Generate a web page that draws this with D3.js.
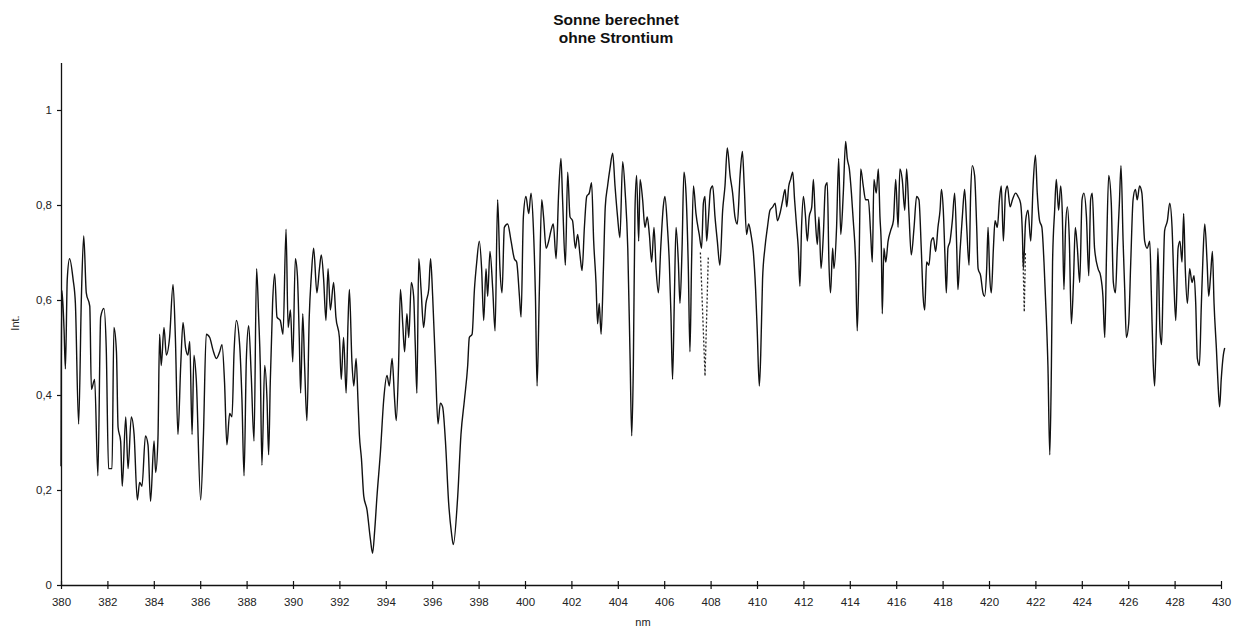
<!DOCTYPE html>
<html><head><meta charset="utf-8">
<script src="https://cdn.jsdelivr.net/npm/d3@7"></script>
<style>body{margin:0;background:#fff}svg{display:block}</style>
</head><body><svg id="chart" width="1242" height="630"></svg>
<script>
// ---------- data ----------
const titleLines = ["Sonne berechnet", "ohne Strontium"];
const xLabel = "nm";
const yLabel = "Int.";
const xTicks = [380,382,384,386,388,390,392,394,396,398,400,402,404,406,408,410,412,414,416,418,420,422,424,426,428,430];
const yTicks = [0, 0.2, 0.4, 0.6, 0.8, 1];
const yTickLabels = ["0", "0,2", "0,4", "0,6", "0,8", "1"];

const wavelength = [
380.00,380.01,380.04,380.13,380.19,380.27,380.37,380.52,380.62,380.76,380.88,380.98,381.09,381.24,381.31,381.45,381.59,381.71,381.85,381.95,
382.05,382.20,382.28,382.39,382.46,382.57,382.64,382.79,382.89,383.03,383.15,383.29,383.39,383.49,383.64,383.75,383.86,384.01,384.08,384.18,
384.25,384.32,384.44,384.54,384.68,384.83,384.93,385.04,385.16,385.26,385.37,385.47,385.55,385.65,385.73,385.83,386.02,386.14,386.26,386.41,
386.55,386.70,386.84,386.94,387.05,387.15,387.27,387.37,387.46,387.56,387.70,387.80,387.89,387.99,388.09,388.20,388.32,388.43,388.52,388.59,
388.66,388.78,388.88,388.95,389.02,389.12,389.21,389.31,389.45,389.57,389.70,389.79,389.89,389.99,390.10,390.19,390.27,390.33,390.42,390.50,
390.60,390.70,390.79,390.89,391.03,391.14,391.22,391.32,391.42,391.51,391.61,391.75,391.85,392.00,392.08,392.18,392.29,392.37,392.43,392.54,
392.62,392.72,392.80,392.86,392.95,393.05,393.19,393.33,393.43,393.52,393.62,393.77,393.91,394.05,394.15,394.27,394.38,394.45,394.55,394.63,
394.73,394.81,394.91,394.99,395.10,395.20,395.27,395.34,395.42,395.52,395.63,395.73,395.85,395.93,396.02,396.14,396.25,396.35,396.45,396.57,
396.71,396.83,396.91,397.10,397.24,397.39,397.53,397.60,397.72,397.82,397.92,398.03,398.13,398.22,398.32,398.39,398.49,398.61,398.71,398.82,
398.92,399.01,399.11,399.25,399.40,399.54,399.64,399.76,399.83,399.93,400.04,400.16,400.26,400.36,400.45,400.52,400.62,400.72,400.80,400.91,
401.02,401.12,401.22,401.34,401.45,401.55,401.62,401.74,401.84,401.94,402.05,402.17,402.27,402.37,402.46,402.56,402.66,402.77,402.87,402.96,
403.06,403.13,403.20,403.28,403.38,403.46,403.56,403.66,403.78,403.88,403.99,404.09,404.21,404.32,404.43,404.53,404.60,404.67,404.74,404.81,
404.90,404.96,405.07,405.17,405.27,405.36,405.46,405.56,405.65,405.75,405.85,405.96,406.03,406.14,406.22,406.29,406.36,406.44,406.51,406.61,
406.68,406.77,406.85,406.94,407.04,407.11,407.18,407.26,407.37,407.51,407.61,407.69,407.76,407.83,407.90,408.00,408.09,408.19,408.29,408.40,
408.52,408.62,408.72,408.84,408.95,409.05,409.15,409.27,409.37,409.45,409.55,409.64,409.74,409.84,409.94,410.01,410.10,410.16,410.24,410.34,
410.45,410.56,410.68,410.78,410.88,410.99,411.11,411.21,411.28,411.37,411.45,411.54,411.62,411.71,411.78,411.85,411.92,412.00,412.08,412.17,
412.25,412.36,412.43,412.51,412.60,412.67,412.76,412.86,412.95,413.03,413.10,413.17,413.26,413.32,413.43,413.52,413.61,413.72,413.82,413.89,
413.98,414.07,414.15,414.25,414.32,414.40,414.47,414.58,414.68,414.80,414.90,414.97,415.04,415.14,415.23,415.30,415.36,415.40,415.47,415.55,
415.65,415.76,415.88,415.98,416.08,416.16,416.26,416.37,416.45,416.55,416.65,416.77,416.88,416.98,417.08,417.16,417.23,417.31,417.41,417.51,
417.60,417.70,417.80,417.89,417.95,418.03,418.10,418.16,418.23,418.32,418.42,418.52,418.61,418.66,418.75,418.85,418.95,419.04,419.14,419.21,
419.28,419.38,419.47,419.53,419.64,419.74,419.81,419.90,419.96,420.03,420.10,420.19,420.26,420.36,420.45,420.53,420.62,420.71,420.79,420.91,
421.01,421.15,421.25,421.36,421.44,421.48,421.58,421.68,421.80,421.90,422.00,422.08,422.18,422.28,422.37,422.47,422.54,422.62,422.69,422.74,
422.83,422.90,423.00,423.09,423.16,423.23,423.30,423.38,423.46,423.55,423.64,423.72,423.81,423.91,424.01,424.09,424.20,424.30,424.38,424.45,
424.55,424.70,424.81,424.91,424.99,425.07,425.16,425.27,425.36,425.45,425.53,425.62,425.69,425.78,425.85,425.92,426.02,426.11,426.21,426.31,
426.39,426.49,426.59,426.71,426.82,426.93,427.00,427.07,427.14,427.21,427.28,427.37,427.44,427.50,427.57,427.69,427.79,427.89,427.97,428.05,
428.15,428.23,428.32,428.39,428.46,428.55,428.65,428.75,428.84,428.91,428.98,429.07,429.15,429.22,429.30,429.40,429.47,429.55,429.63,429.70,
429.80,429.87,429.94,430.01,430.10,430.16
];

const intensity = [
0.25,0.43,0.62,0.54,0.455,0.644,0.687,0.644,0.593,0.339,0.608,0.735,0.615,0.587,0.412,0.433,0.23,0.564,0.582,0.499,
0.245,0.245,0.542,0.491,0.332,0.303,0.208,0.354,0.245,0.354,0.317,0.179,0.216,0.208,0.314,0.295,0.176,0.303,0.237,0.31,
0.528,0.462,0.542,0.484,0.521,0.633,0.521,0.317,0.462,0.553,0.499,0.484,0.513,0.317,0.484,0.433,0.179,0.317,0.528,0.521,
0.495,0.477,0.491,0.506,0.426,0.295,0.361,0.354,0.491,0.557,0.506,0.39,0.23,0.477,0.546,0.441,0.303,0.666,0.564,0.462,
0.252,0.462,0.39,0.274,0.426,0.593,0.655,0.564,0.557,0.528,0.749,0.542,0.579,0.47,0.687,0.651,0.521,0.404,0.571,0.462,
0.346,0.564,0.651,0.709,0.615,0.666,0.695,0.644,0.557,0.666,0.579,0.637,0.564,0.521,0.433,0.521,0.404,0.55,0.622,0.47,
0.419,0.477,0.39,0.317,0.266,0.187,0.158,0.099,0.067,0.114,0.187,0.281,0.39,0.441,0.419,0.477,0.39,0.346,0.462,0.622,
0.55,0.491,0.571,0.521,0.637,0.608,0.506,0.404,0.687,0.622,0.542,0.593,0.622,0.687,0.608,0.462,0.339,0.383,0.375,0.303,
0.172,0.11,0.085,0.187,0.317,0.39,0.462,0.521,0.528,0.622,0.68,0.724,0.666,0.557,0.666,0.608,0.702,0.622,0.535,0.811,
0.666,0.615,0.753,0.76,0.724,0.687,0.68,0.608,0.564,0.775,0.818,0.782,0.825,0.753,0.608,0.419,0.622,0.811,0.775,0.709,
0.724,0.746,0.76,0.687,0.825,0.898,0.811,0.673,0.869,0.775,0.767,0.709,0.738,0.695,0.662,0.753,0.818,0.825,0.847,0.724,
0.637,0.55,0.593,0.528,0.666,0.796,0.84,0.876,0.909,0.84,0.775,0.731,0.891,0.825,0.709,0.477,0.314,0.462,0.789,0.862,
0.724,0.854,0.811,0.753,0.775,0.738,0.68,0.753,0.666,0.615,0.709,0.796,0.818,0.753,0.68,0.571,0.433,0.608,0.753,0.68,
0.593,0.709,0.869,0.825,0.666,0.491,0.68,0.84,0.782,0.738,0.709,0.804,0.818,0.724,0.767,0.833,0.84,0.775,0.724,0.673,
0.789,0.84,0.92,0.862,0.825,0.775,0.76,0.862,0.913,0.84,0.738,0.76,0.738,0.702,0.622,0.535,0.419,0.484,0.644,0.709,
0.753,0.789,0.796,0.804,0.767,0.782,0.811,0.833,0.796,0.84,0.854,0.869,0.811,0.753,0.709,0.629,0.753,0.818,0.782,0.724,
0.775,0.796,0.854,0.775,0.717,0.775,0.666,0.738,0.84,0.847,0.68,0.615,0.709,0.666,0.753,0.898,0.738,0.825,0.934,0.898,
0.876,0.825,0.767,0.68,0.535,0.68,0.876,0.84,0.811,0.811,0.738,0.68,0.854,0.825,0.876,0.775,0.709,0.571,0.709,0.68,
0.724,0.746,0.767,0.854,0.753,0.876,0.854,0.789,0.876,0.782,0.695,0.753,0.818,0.811,0.709,0.608,0.579,0.68,0.673,0.724,
0.731,0.702,0.753,0.789,0.833,0.789,0.695,0.615,0.709,0.724,0.767,0.825,0.709,0.622,0.702,0.775,0.833,0.753,0.673,0.825,
0.883,0.862,0.753,0.666,0.651,0.615,0.608,0.666,0.753,0.651,0.615,0.709,0.767,0.753,0.811,0.84,0.724,0.825,0.84,0.796,
0.811,0.825,0.818,0.804,0.738,0.666,0.767,0.789,0.724,0.84,0.905,0.825,0.767,0.753,0.68,0.564,0.462,0.274,0.462,0.68,
0.789,0.854,0.789,0.84,0.782,0.622,0.753,0.796,0.731,0.55,0.637,0.753,0.709,0.637,0.811,0.825,0.775,0.651,0.811,0.825,
0.709,0.666,0.651,0.608,0.521,0.709,0.862,0.804,0.637,0.615,0.709,0.804,0.883,0.724,0.622,0.521,0.55,0.68,0.811,0.833,
0.811,0.84,0.825,0.724,0.709,0.724,0.608,0.477,0.419,0.535,0.709,0.535,0.506,0.622,0.746,0.767,0.804,0.753,0.637,0.557,
0.709,0.724,0.68,0.782,0.666,0.593,0.666,0.637,0.651,0.593,0.477,0.462,0.586,0.687,0.76,0.68,0.608,0.651,0.702,0.593,
0.499,0.426,0.375,0.433,0.484,0.499
];

// dotted strontium lines (removed from the calculation)
const srWavelength = [[407.56, 407.76, 407.90], [421.46, 421.52, 421.57]];
const srIntensity  = [[0.70, 0.44, 0.69], [0.70, 0.575, 0.70]];

// ---------- layout ----------
const svg = d3.select("#chart");
const x = d3.scaleLinear().domain([380, 430]).range([61, 1221]);
const y = d3.scaleLinear().domain([0, 1.1]).range([585, 62.5]);
const font = "Arial, 'Liberation Sans', sans-serif";

// title
svg.append("g").selectAll("text").data(titleLines).join("text")
  .attr("x", 616).attr("y", (d, i) => 25 + i * 18)
  .attr("text-anchor", "middle")
  .attr("font-family", font).attr("font-weight", "bold").attr("font-size", 15.5)
  .attr("fill", "#111").text(d => d);

// x axis
const xAxis = svg.append("g").attr("transform", "translate(0,585)")
  .call(d3.axisBottom(x).tickValues(xTicks).tickFormat(d3.format("d")).tickSizeOuter(0).tickSizeInner(4));
xAxis.select(".domain").attr("stroke", "#111").attr("stroke-width", 1.3);
xAxis.selectAll(".tick line").attr("y1", -4).attr("y2", 4).attr("stroke", "#111").attr("stroke-width", 1.2);
xAxis.selectAll(".tick text").attr("y", 21).attr("dy", 0)
  .attr("font-family", font).attr("font-size", 11.5).attr("fill", "#222");

// y axis
const yAxis = svg.append("g").attr("transform", "translate(61,0)")
  .call(d3.axisLeft(y).tickValues(yTicks).tickFormat((d, i) => yTickLabels[i]).tickSizeOuter(0).tickSizeInner(4).tickPadding(5));
yAxis.select(".domain").attr("stroke", "#111").attr("stroke-width", 1.3);
yAxis.selectAll(".tick line").attr("stroke", "#111").attr("stroke-width", 1.2);
yAxis.selectAll(".tick text").attr("font-family", font).attr("font-size", 11.5).attr("fill", "#222");

// axis titles
svg.append("text").attr("x", 643).attr("y", 626).attr("text-anchor", "middle")
  .attr("font-family", font).attr("font-size", 11).attr("fill", "#222").text(xLabel);
svg.append("text").attr("transform", "translate(19,323) rotate(-90)").attr("text-anchor", "middle")
  .attr("font-family", font).attr("font-size", 11).attr("fill", "#222").text(yLabel);

// spectrum
const pts = wavelength.map((w, i) => [w, intensity[i]]);
const line = d3.line().x(d => x(d[0])).y(d => y(d[1])).curve(d3.curveMonotoneX);
svg.append("path").datum(pts).attr("d", line)
  .attr("fill", "none").attr("stroke", "#111").attr("stroke-width", 1.4).attr("stroke-linejoin", "round");

// strontium dotted dips
const dotLine = d3.line().x(d => x(d[0])).y(d => y(d[1]));
srWavelength.forEach((ws, k) => {
  svg.append("path").datum(ws.map((w, i) => [w, srIntensity[k][i]])).attr("d", dotLine)
    .attr("fill", "none").attr("stroke", "#222").attr("stroke-width", 1.3).attr("stroke-dasharray", "2,2");
});
</script></body></html>
